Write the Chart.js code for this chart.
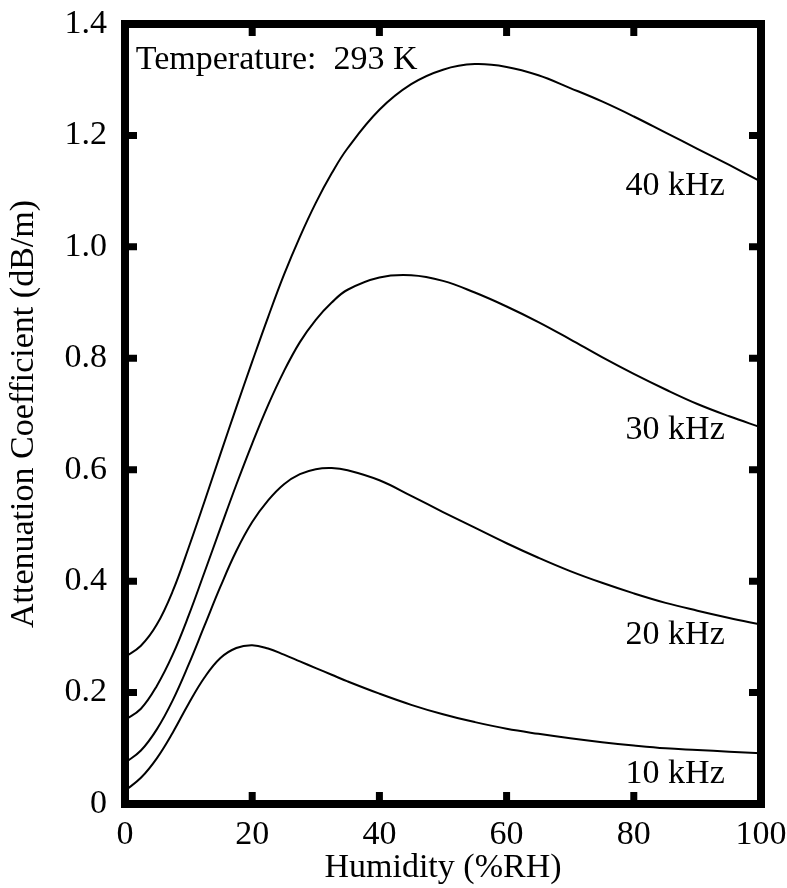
<!DOCTYPE html>
<html>
<head>
<meta charset="utf-8">
<script src="https://cdn.jsdelivr.net/npm/chart.js@4.4.0/dist/chart.umd.min.js"></script>
<style>
  html, body { margin: 0; padding: 0; background: #fff; }
  #wrap { width: 787px; height: 888px; }
</style>
</head>
<body>
<div id="wrap"><canvas id="attChart" width="787" height="888"></canvas></div>
<script>
// Humidity (%RH) sample points
const humidity = [0, 2.5, 5, 7.5, 10, 12.5, 15, 17.5, 20, 22.5, 25, 27.5, 30, 32.5, 35, 40, 45, 50, 55, 60, 65, 70, 75, 80, 85, 90, 95, 100];

// attenuation coefficient (dB/m)
const att40k = [0.264, 0.284, 0.322, 0.382, 0.460, 0.543, 0.628, 0.712, 0.794, 0.874, 0.950, 1.018, 1.079, 1.132, 1.177, 1.246, 1.292, 1.318, 1.328, 1.323, 1.308, 1.285, 1.261, 1.234, 1.205, 1.176, 1.147, 1.117];
const att30k = [0.151, 0.171, 0.212, 0.268, 0.338, 0.416, 0.495, 0.573, 0.647, 0.716, 0.777, 0.829, 0.869, 0.900, 0.923, 0.945, 0.949, 0.939, 0.918, 0.893, 0.865, 0.834, 0.802, 0.772, 0.744, 0.718, 0.696, 0.676];
const att20k = [0.074, 0.096, 0.134, 0.186, 0.250, 0.320, 0.390, 0.454, 0.506, 0.545, 0.574, 0.592, 0.601, 0.603, 0.599, 0.581, 0.553, 0.524, 0.496, 0.468, 0.442, 0.418, 0.397, 0.378, 0.361, 0.347, 0.334, 0.322];
const att10k = [0.024, 0.047, 0.082, 0.128, 0.180, 0.227, 0.262, 0.280, 0.285, 0.279, 0.268, 0.256, 0.244, 0.232, 0.220, 0.198, 0.178, 0.161, 0.147, 0.135, 0.126, 0.118, 0.111, 0.105, 0.100, 0.097, 0.094, 0.091];

const seriesNames = ['40 kHz', '30 kHz', '20 kHz', '10 kHz'];

// tick values / labels
const xTickValues = [0, 20, 40, 60, 80, 100];
const yTickValues = [0, 0.2, 0.4, 0.6, 0.8, 1.0, 1.2, 1.4];
const yTickLabels = ['0', '0.2', '0.4', '0.6', '0.8', '1.0', '1.2', '1.4'];

// where the curve labels sit (data units, right-aligned)
const curveLabelX = 94.3;
const curveLabelY = [1.109, 0.671, 0.303, 0.054];
const tempNote = 'Temperature:  293 K';

const FONT = '"Liberation Serif", "Times New Roman", serif';
const FSIZE = 34;

function toPoints(vals) {
    return humidity.map((h, i) => ({ x: h, y: vals[i] }));
}

// frame, inward ticks and text notes
const framePlugin = {
    id: 'frame',
    afterDraw(chart) {
        const ctx = chart.ctx;
        const a = chart.chartArea;
        const xs = chart.scales.x, ys = chart.scales.y;
        ctx.save();
        ctx.strokeStyle = '#000';
        ctx.lineWidth = 8;
        ctx.strokeRect(a.left, a.top, a.right - a.left, a.bottom - a.top);

        ctx.lineWidth = 7;
        ctx.beginPath();
        xTickValues.slice(1, -1).forEach(v => {
            const px = xs.getPixelForValue(v);
            ctx.moveTo(px, a.bottom); ctx.lineTo(px, a.bottom - 12);
            ctx.moveTo(px, a.top); ctx.lineTo(px, a.top + 12);
        });
        yTickValues.slice(1, -1).forEach(v => {
            const py = ys.getPixelForValue(v);
            ctx.moveTo(a.left, py); ctx.lineTo(a.left + 12, py);
            ctx.moveTo(a.right, py); ctx.lineTo(a.right - 12, py);
        });
        ctx.stroke();

        ctx.fillStyle = '#000';
        ctx.font = FSIZE + 'px ' + FONT;
        ctx.textBaseline = 'middle';
        ctx.textAlign = 'right';
        seriesNames.forEach((name, i) => {
            ctx.fillText(name, xs.getPixelForValue(curveLabelX), ys.getPixelForValue(curveLabelY[i]));
        });
        ctx.textAlign = 'left';
        ctx.fillText(tempNote, xs.getPixelForValue(1.7), ys.getPixelForValue(1.335));
        ctx.restore();
    }
};

const ctx = document.getElementById('attChart').getContext('2d');
const allSeries = [att40k, att30k, att20k, att10k];

new Chart(ctx, {
    type: 'scatter',
    data: {
        datasets: allSeries.map((vals, i) => ({
            label: seriesNames[i],
            data: toPoints(vals),
            showLine: true,
            borderColor: '#000',
            borderWidth: 2,
            pointRadius: 0,
            tension: 0.4,
            fill: false
        }))
    },
    options: {
        responsive: false,
        animation: false,
        layout: { padding: { left: 0, top: 24, right: 26, bottom: 0 } },
        plugins: {
            legend: { display: false },
            tooltip: { enabled: false }
        },
        scales: {
            x: {
                type: 'linear',
                min: 0, max: 100,
                afterBuildTicks: s => { s.ticks = xTickValues.map(v => ({ value: v })); },
                afterFit: s => { s.height = 84; s.paddingLeft = 0; s.paddingRight = 0; },
                grid: { display: false, drawTicks: false },
                border: { display: false },
                ticks: {
                    color: '#000',
                    font: { family: FONT, size: FSIZE },
                    padding: 11,
                    autoSkip: false,
                    maxRotation: 0,
                    callback: v => String(v)
                },
                title: {
                    display: true,
                    text: 'Humidity (%RH)',
                    color: '#000',
                    font: { family: FONT, size: FSIZE },
                    padding: { top: 0, bottom: 0 }
                }
            },
            y: {
                type: 'linear',
                min: 0, max: 1.4,
                afterBuildTicks: s => { s.ticks = yTickValues.map(v => ({ value: v })); },
                afterFit: s => { s.width = 125; s.paddingTop = 0; s.paddingBottom = 0; },
                grid: { display: false, drawTicks: false },
                border: { display: false },
                ticks: {
                    color: '#000',
                    font: { family: FONT, size: FSIZE },
                    padding: 18,
                    autoSkip: false,
                    callback: (v, i) => yTickLabels[i]
                },
                title: {
                    display: true,
                    text: 'Attenuation Coefficient (dB/m)',
                    color: '#000',
                    font: { family: FONT, size: FSIZE },
                    padding: { top: 4, bottom: 0 }
                }
            }
        }
    },
    plugins: [framePlugin]
});
</script>
</body>
</html>
